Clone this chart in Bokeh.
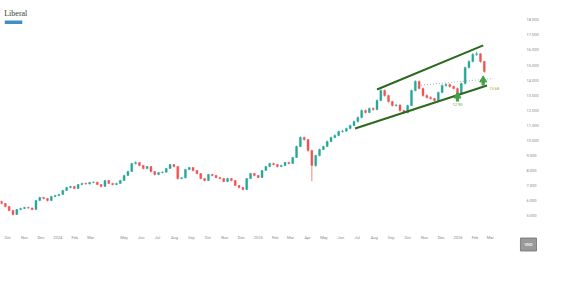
import pandas as pd
from bokeh.plotting import figure
from bokeh.models import ColumnDataSource, FixedTicker, Label, Range1d, Title
from bokeh.embed import file_html
from bokeh.resources import INLINE

# ---------------- data ----------------
first_week = "2023-09-20"
first_open = 5950
closes = [5820, 5620, 5360, 5090, 5420, 5490, 5555, 5520, 5420, 6020,
          6220, 6150, 6020, 6290, 6350, 6420, 6685, 6880, 6950, 6815,
          7080, 7150, 7120, 7215, 7230, 7080, 6950, 7350, 7150, 7080,
          7150, 7350, 7680, 7940, 8470, 8540, 8340, 8140, 8270, 7940,
          7740, 7870, 7900, 8140, 8400, 8270, 7475, 7520, 8075, 8205,
          8010, 7805, 7475, 7345, 7740, 7680, 7545, 7475, 7280, 7475,
          7345, 7015, 6880, 6750, 7475, 7805, 7680, 7545, 8010, 8270,
          8470, 8400, 8270, 8340, 8540, 8470, 8870, 9600, 10200, 10060,
          9330, 8340, 9000, 9400, 9600, 9930, 10200, 10330, 10590, 10620,
          10790, 10990, 11250, 11520, 11985, 11850, 12120, 12050, 12650, 13310,
          12980, 12580, 12320, 12350, 11985, 11850, 12320, 13310, 13910, 13450,
          12980, 12850, 12780, 12650, 13180, 13640, 13710, 13580, 13450, 13110,
          13770, 14830, 15230, 15700, 15750, 15230, 14570]
highs = [6000, 5860, 5650, 5400, 5460, 5540, 5600, 5610, 5560, 6060,
         6270, 6260, 6180, 6320, 6400, 6470, 6720, 6930, 7000, 6990,
         7120, 7200, 7210, 7260, 7290, 7270, 7110, 7390, 7380, 7190,
         7200, 7390, 7720, 7990, 8520, 8620, 8580, 8380, 8320, 8300,
         7980, 7920, 7960, 8190, 8450, 8440, 8300, 7580, 8120, 8260,
         8240, 8050, 7840, 7510, 7780, 7790, 7720, 7590, 7510, 7520,
         7510, 7380, 7050, 6920, 7510, 7850, 7850, 7720, 8050, 8320,
         8520, 8530, 8440, 8400, 8590, 8590, 8920, 9660, 10280, 10260,
         10100, 9380, 9060, 9460, 9660, 9990, 10260, 10400, 10650, 10700,
         10850, 11060, 11320, 11590, 12060, 12050, 12190, 12200, 12720, 13400,
         13380, 13030, 12630, 12430, 12400, 12050, 12380, 13380, 14000, 13980,
         13500, 13050, 12930, 12840, 13250, 13710, 13800, 13780, 13640, 13500,
         13840, 14900, 15320, 15800, 15900, 15800, 15280]
lows = [5760, 5560, 5300, 5030, 5060, 5380, 5450, 5470, 5370, 5400,
        5980, 6090, 5960, 5990, 6240, 6300, 6390, 6650, 6830, 6770,
        6790, 7030, 7060, 7080, 7160, 7030, 6890, 6920, 7100, 7020,
        7040, 7110, 7320, 7650, 7910, 8410, 8280, 8080, 8100, 7880,
        7680, 7700, 7820, 7870, 8110, 8210, 7400, 7420, 7490, 8030,
        7950, 7750, 7420, 7290, 7310, 7630, 7490, 7420, 7220, 7240,
        7290, 6960, 6820, 6690, 6720, 7440, 7620, 7490, 7510, 7980,
        8230, 8340, 8210, 8230, 8300, 8410, 8440, 8840, 9560, 9980,
        9250, 7300, 8250, 8950, 9350, 9560, 9880, 10150, 10280, 10520,
        10560, 10740, 10940, 11200, 11470, 11780, 11800, 11970, 12000, 12600,
        12900, 12500, 12240, 12250, 11900, 11760, 11800, 12280, 13250, 13380,
        12900, 12770, 12700, 12560, 12600, 13130, 13560, 13500, 13370, 12950,
        13060, 13720, 14780, 15170, 15600, 15150, 14480]

x_tick_dates = ["2023-10-01", "2023-11-01", "2023-12-01", "2024-01-01", "2024-02-01",
                "2024-03-01", "2024-05-01", "2024-06-01", "2024-07-01", "2024-08-01",
                "2024-09-01", "2024-10-01", "2024-11-01", "2024-12-01", "2025-01-01",
                "2025-02-01", "2025-03-01", "2025-04-01", "2025-05-01", "2025-06-01",
                "2025-07-01", "2025-08-01", "2025-09-01", "2025-10-01", "2025-11-01",
                "2025-12-01", "2026-01-01", "2026-02-01", "2026-03-01"]
x_tick_labels = ["Oct", "Nov", "Dec", "2024", "Feb", "Mar", "May", "Jun", "Jul", "Aug",
                 "Sep", "Oct", "Nov", "Dec", "2025", "Feb", "Mar", "Apr", "May", "Jun",
                 "Jul", "Aug", "Sep", "Oct", "Nov", "Dec", "2026", "Feb", "Mar"]
y_ticks = [5000, 6000, 7000, 8000, 9000, 10000, 11000, 12000, 13000, 14000,
           15000, 16000, 17000, 18000]
y_tick_labels = ["5.000", "6.000", "7.000", "8.000", "9.000", "10.000", "11.000",
                 "12.000", "13.000", "14.000", "15.000", "16.000", "17.000", "18.000"]

# channel lines (date, price)
upper_dates = ["2025-08-06", "2026-02-16"]
upper_prices = [13380, 16300]
lower_dates = ["2025-06-27", "2026-02-23"]
lower_prices = [10790, 13644]
neck_dates = ["2025-10-20", "2026-03-06"]
neck_prices = [13644, 14108]

# support marks
mark_dates = ["2025-12-31", "2026-02-16"]
mark_tips = [13110, 14175]
mark_bases = [12580, 13644]
mark_texts = ["12.90", "13.68"]


def ms(d):
    return pd.Timestamp(d).value / 1e6


DAY = 86400000.0
dates = pd.date_range(first_week, periods=len(closes), freq="7D")
opens = [first_open] + closes[:-1]
up_c, dn_c = "#26a69a", "#ef5350"
colors = [up_c if c >= o else dn_c for o, c in zip(opens, closes)]
src = ColumnDataSource(dict(date=dates, open=opens, close=closes,
                            high=highs, low=lows, color=colors))

FONT = "Roboto"
p = figure(width=587, height=283, x_axis_type="datetime", y_axis_location="right",
           x_range=Range1d(ms("2023-09-18") + 0.2 * DAY, ms("2026-04-16")),
           y_range=Range1d(4362, 18948),
           output_backend="svg", toolbar_location=None,
           min_border_left=0, min_border_right=72, min_border_top=5, min_border_bottom=58)
p.outline_line_color = None
p.grid.visible = False
p.background_fill_color = "white"

xa = p.xaxis[0]
xt = [ms(d) for d in x_tick_dates]
xa.ticker = FixedTicker(ticks=xt)
xa.major_label_overrides = {t: l for t, l in zip(xt, x_tick_labels)}
ya = p.yaxis[0]
ya.ticker = FixedTicker(ticks=y_ticks)
ya.major_label_overrides = {t: l for t, l in zip(y_ticks, y_tick_labels)}
for ax in (xa, ya):
    ax.axis_line_color = None
    ax.major_tick_line_color = None
    ax.minor_tick_line_color = None
    ax.major_label_text_font = FONT
    ax.major_label_text_font_size = "4px"
    ax.major_label_text_color = "#8a8a8a"
xa.major_label_standoff = 3
ya.major_label_standoff = 5

# currency box under the price scale
box = Title(text="VND", align="right", text_font=FONT, text_font_size="4px",
            text_color="#eeeeee", background_fill_color="#9a9a9a",
            border_line_color="#6f6f6f", border_line_width=0.8,
            padding=4, offset=-21, standoff=-17)
p.add_layout(box, "below")

# candles
p.segment(x0="date", y0="high", x1="date", y1="low", color="color", line_width=0.7, source=src)
p.vbar(x="date", width=3.6 * DAY, top="open", bottom="close", fill_color="color",
       line_color="color", line_width=0.4, source=src)

# channel
p.line([ms(d) for d in upper_dates], upper_prices, line_color="#2b6a1c", line_width=2)
p.line([ms(d) for d in lower_dates], lower_prices, line_color="#2b6a1c", line_width=2)
p.line([ms(d) for d in neck_dates], neck_prices, line_color="#9a9a9a", line_width=0.8,
       line_dash="1 2")

# support arrows
arrow_c = "#43a047"
mx = [ms(d) for d in mark_dates]
head_y = [t - (t - b) * 0.3 for t, b in zip(mark_tips, mark_bases)]
p.segment(x0=mx, y0=head_y, x1=mx, y1=mark_bases, line_color=arrow_c, line_width=3.2)
p.scatter(mx, head_y, marker="triangle", size=7, fill_color=arrow_c, line_color=arrow_c)

p.add_layout(Label(x=mx[0], y=mark_bases[0], text=mark_texts[0], text_font=FONT,
                   text_font_size="4px", text_color="#5f9e3f", text_align="center",
                   text_baseline="top", y_offset=-1))
p.add_layout(Label(x=mx[1], y=mark_bases[1], text=mark_texts[1], text_font=FONT,
                   text_font_size="4px", text_color="#b5a21f", text_align="left",
                   text_baseline="middle", x_offset=6, y_offset=-3))

# logo
p.add_layout(Label(x=ms("2023-09-25"), y=18700, text="Liberal", text_font="Liberation Serif",
                   text_font_size="8px", text_color="#3a3a3a", text_baseline="top"))
p.quad(left=[ms("2023-09-26")], right=[ms("2023-10-28")], top=[17950], bottom=[17720],
       fill_color="#3f8fc4", line_color=None)

open("out.html", "w").write(file_html(p, INLINE))
